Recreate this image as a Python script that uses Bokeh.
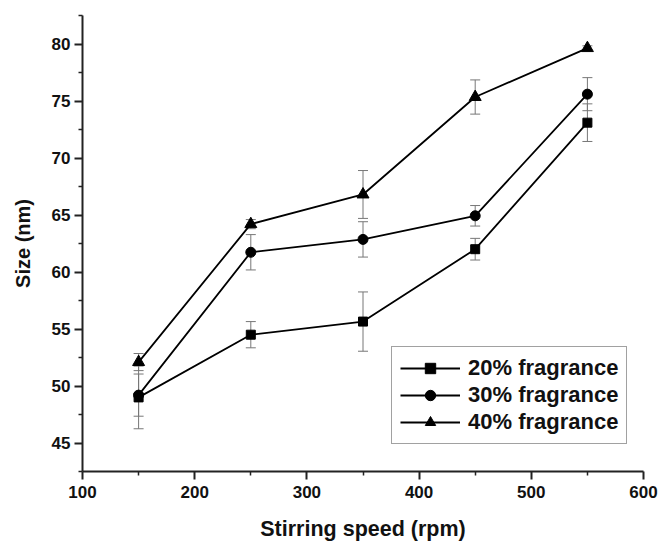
from bokeh.plotting import figure
from bokeh.models import ColumnDataSource, Whisker, Legend, LegendItem, Range1d, FixedTicker, TeeHead
from bokeh.embed import file_html
from bokeh.resources import INLINE

speed = [150, 250, 350, 450, 550]
size_20 = [49.0, 54.5, 55.65, 62.0, 73.1]
err_20 = [2.75, 1.15, 2.6, 0.95, 1.65]
size_30 = [49.2, 61.73, 62.86, 64.93, 75.6]
err_30 = [1.85, 1.55, 1.55, 0.9, 1.45]
size_40 = [52.1, 64.2, 66.8, 75.35, 79.64]
err_40 = [0.75, 0.4, 2.1, 1.5, 0.2]
labels = ["20% fragrance", "30% fragrance", "40% fragrance"]

x_ticks = [100, 200, 300, 400, 500, 600]
y_ticks = [45, 50, 55, 60, 65, 70, 75, 80]

FONT = "Liberation Sans"

p = figure(width=660, height=543, output_backend="svg", toolbar_location=None,
           x_range=Range1d(100, 600), y_range=Range1d(42.5, 82.5),
           min_border_left=82, min_border_right=17, min_border_top=15, min_border_bottom=71)
p.outline_line_color = None
p.grid.visible = False
p.background_fill_color = "white"
p.border_fill_color = "white"

for ax in (p.xaxis[0], p.yaxis[0]):
    ax.axis_line_width = 2
    ax.axis_line_color = "#222222"
    ax.major_tick_line_width = 2
    ax.major_tick_line_color = "#222222"
    ax.minor_tick_line_width = 1.5
    ax.minor_tick_line_color = "#222222"
    ax.major_tick_out = 8
    ax.major_tick_in = 0
    ax.minor_tick_out = 4
    ax.minor_tick_in = 0
    ax.major_label_text_font = FONT
    ax.major_label_text_font_style = "bold"
    ax.major_label_text_font_size = "17px"
    ax.major_label_text_color = "#111111"
    ax.axis_label_text_font = FONT
    ax.axis_label_text_font_style = "bold"
    ax.axis_label_text_color = "#111111"

p.xaxis.ticker = FixedTicker(ticks=x_ticks, minor_ticks=[150, 250, 350, 450, 550])
p.yaxis.ticker = FixedTicker(ticks=y_ticks, minor_ticks=[42.5, 47.5, 52.5, 57.5, 62.5, 67.5, 72.5, 77.5, 82.5])
p.xaxis.axis_label = "Stirring speed (rpm)"
p.yaxis.axis_label = "Size (nm)"
p.xaxis.axis_label_text_font_size = "21.5px"
p.yaxis.axis_label_text_font_size = "20px"
p.xaxis.major_label_standoff = 6
p.yaxis.major_label_standoff = 4
p.xaxis.axis_label_standoff = 16
p.yaxis.axis_label_standoff = 15

series = [(size_20, err_20, "square", 9), (size_30, err_30, "circle", 10), (size_40, err_40, "triangle", 12)]
items = []
for (vals, errs, marker, msize), lab in zip(series, labels):
    src = ColumnDataSource(dict(x=speed, y=vals,
                                lo=[v - e for v, e in zip(vals, errs)],
                                hi=[v + e for v, e in zip(vals, errs)]))
    w = Whisker(source=src, base="x", upper="hi", lower="lo",
                line_color="#777777", line_width=1,
                upper_head=TeeHead(size=10, line_color="#777777", line_width=1),
                lower_head=TeeHead(size=10, line_color="#777777", line_width=1))
    p.add_layout(w)
    ln = p.line("x", "y", source=src, line_color="black", line_width=1.8)
    mk = p.scatter("x", "y", source=src, marker=marker, size=msize,
                   fill_color="black", line_color="black")
    items.append(LegendItem(label=lab, renderers=[ln, mk]))

legend = Legend(items=items, location=(309, 27), orientation="vertical")
legend.label_text_font = FONT
legend.label_text_font_style = "bold"
legend.label_text_font_size = "22px"
legend.label_text_color = "#111111"
legend.glyph_width = 60
legend.glyph_height = 26
legend.label_height = 26
legend.label_standoff = 8
legend.padding = 8
legend.spacing = 1
legend.margin = 0
legend.border_line_color = "#444444"
legend.border_line_width = 1.2
legend.background_fill_color = "white"
p.add_layout(legend, "center")

open("out.html", "w").write(file_html(p, INLINE))
